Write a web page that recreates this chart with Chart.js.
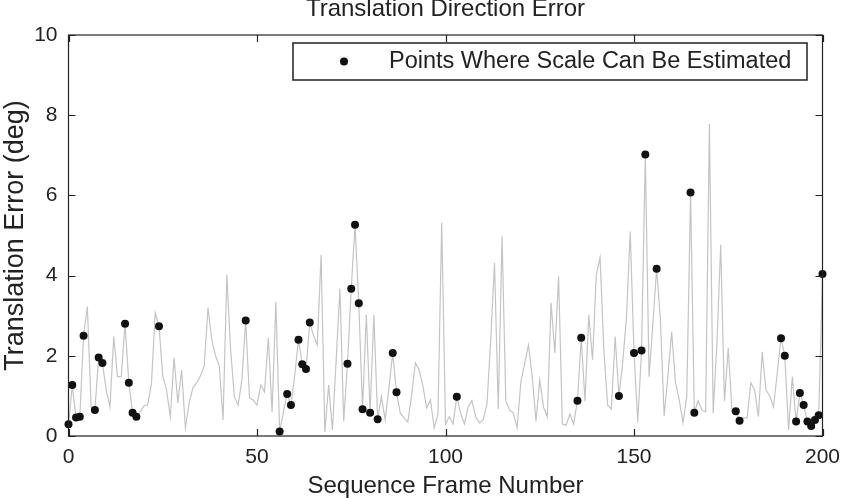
<!DOCTYPE html>
<html><head><meta charset="utf-8">
<script src="https://cdn.jsdelivr.net/npm/chart.js@4.4.1/dist/chart.umd.min.js"></script>
<style>html,body{margin:0;padding:0;background:#fff;overflow:hidden}</style>
</head><body>
<canvas id="c" width="843" height="498"></canvas>
<script>
// translation direction error (deg) for sequence frames 0..200
const errorDeg = [
 0.29,1.27,0.46,0.48,2.50,3.23,0.73,0.65,1.96,1.82,
 1.15,0.72,2.48,1.48,1.48,2.80,1.33,0.58,0.48,0.60,
 0.75,0.78,1.30,3.07,2.74,1.50,1.15,0.48,1.95,0.82,
 1.65,0.20,0.82,1.20,1.33,1.50,1.75,3.20,2.40,2.00,
 1.75,0.40,4.02,2.15,0.98,0.77,1.40,2.88,0.95,0.90,
 0.77,1.27,1.10,2.45,0.60,3.35,0.11,0.60,1.05,0.77,
 1.50,2.40,1.79,1.67,2.83,2.50,2.27,4.52,0.10,1.27,
 0.15,1.90,3.67,0.36,1.80,3.67,5.27,3.31,0.67,3.02,
 0.58,3.02,0.42,0.98,0.40,1.20,2.07,1.09,0.57,0.45,
 0.35,1.00,1.82,1.65,1.25,0.70,0.90,0.20,0.55,5.32,
 0.30,0.48,0.30,0.98,0.57,0.30,0.72,0.88,0.48,0.33,
 0.40,0.80,2.40,4.32,0.67,4.98,0.87,0.65,0.57,0.20,
 1.36,1.80,2.27,1.48,0.37,1.40,0.72,0.48,3.32,2.07,
 3.98,0.30,0.27,0.55,0.30,0.88,2.45,0.87,3.02,1.90,
 4.02,4.45,2.15,0.77,0.67,2.48,1.00,1.83,2.95,5.10,
 2.07,0.35,2.13,7.02,1.48,2.80,4.17,2.90,0.50,1.50,
 2.60,1.33,0.90,0.33,0.98,6.07,0.58,0.88,0.65,0.60,
 7.78,0.57,2.32,4.77,0.87,2.20,0.60,0.62,0.38,0.45,
 0.45,1.33,1.15,0.48,2.10,1.15,1.00,0.73,1.57,2.44,
 2.00,0.15,1.48,0.36,1.07,0.77,0.36,0.25,0.40,0.52,
 4.04
];
// frames where scale can be estimated
const scaleFrames = [0,1,2,3,4,7,8,9,15,16,17,18,24,47,56,58,59,61,62,63,64,
 74,75,76,77,78,80,82,86,87,103,135,136,146,150,152,153,156,165,166,177,178,
 189,190,193,194,195,196,197,198,199,200];
const xTicks = [0,50,100,150,200];
const yTicks = [0,2,4,6,8,10];
const chartTitle = 'Translation Direction Error';
const xTitle = 'Sequence Frame Number';
const yTitle = 'Translation Error (deg)';
const legendLabel = 'Points Where Scale Can Be Estimated';

const FONT = '"Liberation Sans", Arial, Helvetica, sans-serif';
const TXT = '#222';

const framePlugin = {
  id: 'frame',
  afterDraw(chart) {
    const {ctx, chartArea: a, scales: {x, y}} = chart;
    ctx.save();
    ctx.strokeStyle = '#222';
    ctx.lineWidth = 1.2;
    ctx.strokeRect(a.left, a.top, a.right - a.left, a.bottom - a.top);
    ctx.beginPath();
    const tl = 7;
    xTicks.forEach(v => {
      const px = Math.round(x.getPixelForValue(v)) + 0.5;
      ctx.moveTo(px, a.bottom); ctx.lineTo(px, a.bottom - tl);
      ctx.moveTo(px, a.top); ctx.lineTo(px, a.top + tl);
    });
    yTicks.forEach(v => {
      const py = Math.round(y.getPixelForValue(v)) + 0.5;
      ctx.moveTo(a.left, py); ctx.lineTo(a.left + tl, py);
      ctx.moveTo(a.right, py); ctx.lineTo(a.right - tl, py);
    });
    ctx.stroke();
    // title (partly cut at top, as in the reference)
    ctx.fillStyle = TXT;
    ctx.font = '24px ' + FONT;
    ctx.textAlign = 'center';
    ctx.textBaseline = 'alphabetic';
    ctx.fillText(chartTitle, (a.left + a.right) / 2, 16);
    // legend box
    const bx = 293, by = 43, bw = 514, bh = 37;
    ctx.fillStyle = '#fff';
    ctx.fillRect(bx, by, bw, bh);
    ctx.lineWidth = 1.5;
    ctx.strokeStyle = '#222';
    ctx.strokeRect(bx, by, bw, bh);
    ctx.fillStyle = '#111';
    ctx.beginPath();
    ctx.arc(344, 61.5, 4, 0, Math.PI * 2);
    ctx.fill();
    ctx.fillStyle = TXT;
    ctx.font = '23.5px ' + FONT;
    ctx.textAlign = 'left';
    ctx.textBaseline = 'middle';
    ctx.fillText(legendLabel, 389, 62);
    ctx.restore();
  }
};

new Chart(document.getElementById('c'), {
  type: 'line',
  data: {
    datasets: [
      {
        label: 'error',
        data: errorDeg.map((v, i) => ({x: i, y: v})),
        borderColor: '#c4c4c4',
        borderWidth: 1.2,
        pointRadius: 0,
        tension: 0,
        order: 2
      },
      {
        label: legendLabel,
        data: scaleFrames.map(i => ({x: i, y: errorDeg[i]})),
        showLine: false,
        pointRadius: 4,
        pointBackgroundColor: '#111',
        pointBorderColor: '#111',
        pointBorderWidth: 0,
        clip: false,
        order: 1
      }
    ]
  },
  options: {
    responsive: false,
    animation: false,
    devicePixelRatio: 1,
    layout: {padding: {top: 35, right: 20.5, left: 0, bottom: 0}},
    plugins: {legend: {display: false}, tooltip: {enabled: false}},
    scales: {
      x: {
        type: 'linear', min: 0, max: 200,
        afterBuildTicks: s => { s.ticks = xTicks.map(v => ({value: v})); },
        afterFit: s => { s.height = 62; s.paddingLeft = 0; s.paddingRight = 0; },
        grid: {display: false, drawTicks: false},
        border: {display: false},
        ticks: {color: TXT, font: {family: FONT, size: 21}, padding: 9, maxRotation: 0},
        title: {display: true, text: xTitle, color: TXT, font: {family: FONT, size: 24}, padding: {top: 0, bottom: -3}}
      },
      y: {
        min: 0, max: 10,
        afterBuildTicks: s => { s.ticks = yTicks.map(v => ({value: v})); },
        afterFit: s => { s.width = 68.5; s.paddingTop = 0; s.paddingBottom = 0; },
        grid: {display: false, drawTicks: false},
        border: {display: false},
        ticks: {color: TXT, font: {family: FONT, size: 21}, padding: 11},
        title: {display: true, text: yTitle, color: TXT, font: {family: FONT, size: 27}, padding: {top: -1, bottom: 0}}
      }
    }
  },
  plugins: [framePlugin]
});
</script>
</body></html>
